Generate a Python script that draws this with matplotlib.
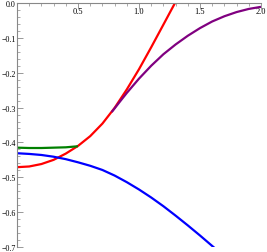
import numpy as np
import matplotlib
matplotlib.use("Agg")
import matplotlib.pyplot as plt
from matplotlib.ticker import MultipleLocator, FixedLocator

# Data
red_x = [0.0, 0.1, 0.2, 0.3, 0.4, 0.5, 0.6, 0.7, 0.8, 0.9, 1.0, 1.1, 1.2, 1.295]
red_y = [-0.471, -0.469, -0.462, -0.450, -0.432, -0.410, -0.382, -0.346, -0.301, -0.248,
         -0.190, -0.127, -0.062, 0.0]

blue_x = [0.0, 0.1, 0.2, 0.3, 0.4, 0.5, 0.6, 0.7, 0.8, 0.9, 1.0, 1.1, 1.2, 1.3, 1.4, 1.5, 1.6, 1.62]
blue_y = [-0.431, -0.433, -0.436, -0.441, -0.448, -0.457, -0.467, -0.479, -0.495, -0.514,
          -0.535, -0.558, -0.583, -0.610, -0.638, -0.667, -0.697, -0.703]

green_x = [0.0, 0.1, 0.2, 0.3, 0.4, 0.5]
green_y = [-0.415, -0.416, -0.416, -0.415, -0.414, -0.411]

purple_x = [0.776, 0.85, 0.9, 1.0, 1.1, 1.2, 1.3, 1.4, 1.5, 1.6, 1.7, 1.8, 1.9, 2.0]
purple_y = [-0.313, -0.280, -0.258, -0.217, -0.180, -0.147, -0.119, -0.094, -0.072, -0.053,
            -0.038, -0.026, -0.017, -0.011]

x_ticks = [0.5, 1.0, 1.5, 2.0]
x_labels = ["0.5", "1.0", "1.5", "2.0"]
y_ticks = [0.0, -0.1, -0.2, -0.3, -0.4, -0.5, -0.6, -0.7]
y_labels = ["0.0", "\u22120.1", "\u22120.2", "\u22120.3", "\u22120.4", "\u22120.5", "\u22120.6", "\u22120.7"]

plt.rcParams['font.family'] = ['Liberation Serif', 'DejaVu Serif']

fig = plt.figure(figsize=(2.67, 2.53), dpi=100)
ax = fig.add_axes([17/267, 1-248/253, (261-17)/267, (248-4)/253])

lw = 1.6
ax.plot(red_x, red_y, color=(1, 0, 0), lw=lw, solid_capstyle='butt', solid_joinstyle='round')
ax.plot(blue_x, blue_y, color=(0, 0, 1), lw=lw, solid_capstyle='butt', solid_joinstyle='round')
ax.plot(green_x, green_y, color=(0, 0.5, 0), lw=lw, solid_capstyle='butt', solid_joinstyle='round')
ax.plot(purple_x, purple_y, color=(0.5, 0, 0.5), lw=lw, solid_capstyle='butt', solid_joinstyle='round')

ax.set_xlim(0, 2.0)
ax.set_ylim(-0.7, 0.0)

for s in ['bottom', 'right']:
    ax.spines[s].set_visible(False)
for s in ['left', 'top']:
    ax.spines[s].set_color('#888888')
    ax.spines[s].set_linewidth(0.8)

ax.xaxis.set_major_locator(FixedLocator(x_ticks))
ax.set_xticklabels(x_labels)
ax.xaxis.set_minor_locator(MultipleLocator(0.1))
ax.yaxis.set_major_locator(FixedLocator(y_ticks))
ax.set_yticklabels(y_labels)
ax.yaxis.set_minor_locator(MultipleLocator(0.02))

ax.tick_params(axis='x', which='both', top=True, bottom=False, labeltop=True,
               labelbottom=False, direction='in', color='#888888', labelsize=6, pad=-5.5)
ax.tick_params(axis='x', which='major', length=4, width=0.6)
ax.tick_params(axis='x', which='minor', length=2, width=0.5)
ax.tick_params(axis='y', which='both', left=True, right=False, direction='in',
               color='#888888', labelsize=5.8, pad=1)
ax.tick_params(axis='y', which='major', length=4, width=0.6)
ax.tick_params(axis='y', which='minor', length=2, width=0.5)

for lab in ax.get_xticklabels():
    lab.set_va('center')

fig.savefig("out.png", dpi=100)
